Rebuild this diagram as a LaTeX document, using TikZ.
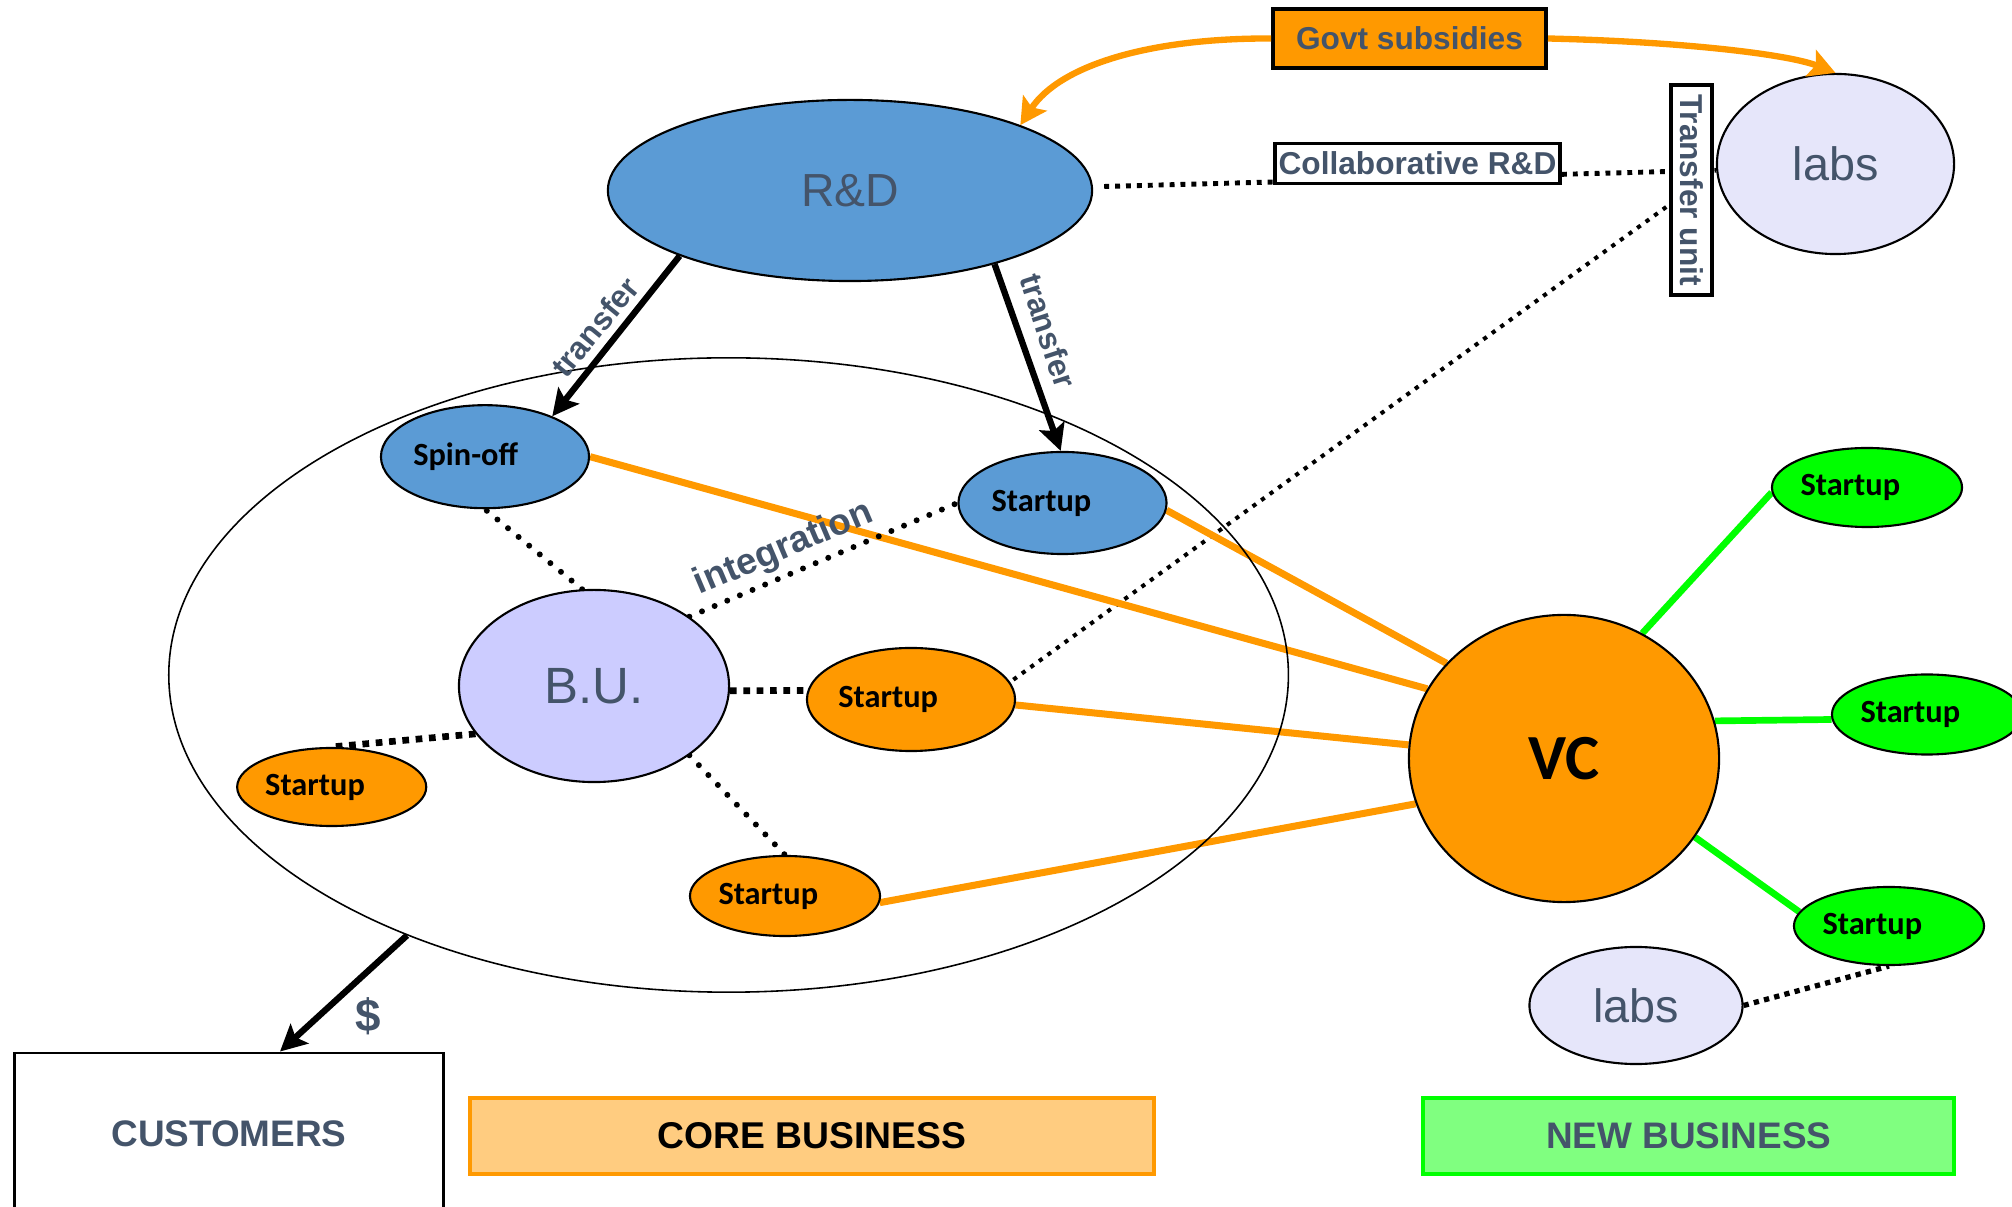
\documentclass[tikz,border=0pt]{standalone}
\usepackage{fontspec}
\setmainfont{Liberation Sans}
\newfontfamily\calfont{Carlito}
\usetikzlibrary{shapes.geometric,arrows.meta,backgrounds,calc}
\definecolor{txt}{HTML}{44546A}
\definecolor{blu}{HTML}{5B9BD5}
\definecolor{org}{HTML}{FF9900}
\definecolor{lorg}{HTML}{FFCC80}
\definecolor{grn}{HTML}{00FF00}
\definecolor{lgrn}{HTML}{80FF80}
\definecolor{bufill}{HTML}{CCCCFF}
\definecolor{labsfill}{HTML}{E6E6FA}
\begin{document}
\begin{tikzpicture}[x=0.01cm,y=-0.01cm,
 ell/.style={ellipse,draw=black,line width=0.6pt,inner sep=0pt},
 bigtxt/.style={text=txt,font=\fontsize{#1}{#1}\selectfont},
 lbl/.style={text=txt,font=\fontsize{#1}{#1}\selectfont\bfseries,inner sep=0pt},
 sut/.style={ell,font=\calfont\fontsize{9.2}{10}\selectfont\bfseries,text=black},
 boxn/.style={draw=black,line width=1pt,fill=white,inner sep=0pt},
 oline/.style={draw=org,line width=2pt},
 gline/.style={draw=grn,line width=1.9pt},
 rdots/.style={draw=black,line width=1.7pt,line cap=round,dash pattern=on 0pt off 3.9pt},
 sqdots/.style={draw=black,line width=#1,dash pattern=on #1 off #1},
 sqdots/.default=1.4pt,
 barrow/.style={draw=black,line width=1.8pt,-{Stealth[length=7.5pt,width=7.5pt,inset=1.5pt]}},
 oarrow/.style={draw=org,line width=1.8pt,-{Stealth[length=7.5pt,width=8pt,inset=1.5pt]}}
]
\useasboundingbox (0,0) rectangle (2012,1207);

% big core ellipse
\node[ellipse,draw=black,line width=0.45pt,minimum width=11.19cm,minimum height=6.34cm,inner sep=0pt] (core) at (728.6,675) {};

% top nodes
\node[ell,fill=blu,minimum width=4.84cm,minimum height=1.81cm,bigtxt=13.2] (rd) at (850,190.5) {R\&D};
\node[ell,fill=labsfill,minimum width=2.37cm,minimum height=1.80cm,bigtxt=13.3] (labs1) at (1835.5,164) {labs};
\node[boxn,fill=org,line width=1.1pt,minimum width=2.73cm,minimum height=0.59cm,lbl=9] (govt) at (1409.5,38.5) {Govt subsidies};
\node[boxn,minimum width=2.85cm,minimum height=0.40cm,lbl=9] (collab) at (1417.5,163.5) {Collaborative R\&D};
\node[boxn,rotate=-90,minimum width=2.10cm,minimum height=0.41cm,lbl=9] (tu) at (1691.5,190) {Transfer unit};

% core business nodes
\node[sut,fill=blu,minimum width=2.08cm,minimum height=1.03cm] (spinoff) at (485,456.7) {Spin-off\kern11pt};
\node[sut,fill=blu,minimum width=2.08cm,minimum height=1.02cm] (su1) at (1062.5,503) {Startup\kern12pt};
\node[ell,fill=bufill,minimum width=2.70cm,minimum height=1.92cm,bigtxt=14.5] (bu) at (594,686) {B.U.};
\node[sut,fill=org,minimum width=2.08cm,minimum height=1.03cm] (su2) at (911,699.5) {Startup\kern13pt};
\node[sut,fill=org,minimum width=1.89cm,minimum height=0.78cm] (su3) at (331.7,787) {Startup\kern9.5pt};
\node[sut,fill=org,minimum width=1.90cm,minimum height=0.80cm] (su4) at (785,896) {Startup\kern9.5pt};

% new business nodes
\node[ell,fill=org,minimum width=3.10cm,minimum height=2.87cm,font=\calfont\fontsize{18.3}{20}\selectfont\bfseries] (vc) at (1564,758.5) {VC};
\node[sut,fill=grn,minimum width=1.90cm,minimum height=0.79cm] (g1) at (1867,487.5) {Startup\kern9.5pt};
\node[sut,fill=grn,minimum width=1.90cm,minimum height=0.80cm] (g2) at (1927,714.5) {Startup\kern9.5pt};
\node[sut,fill=grn,minimum width=1.90cm,minimum height=0.78cm] (g3) at (1889,926) {Startup\kern9.5pt};
\node[ell,fill=labsfill,minimum width=2.13cm,minimum height=1.17cm,bigtxt=13.3] (labs2) at (1636,1005.5) {labs};

% bottom boxes
\node[draw=black,line width=0.8pt,fill=white,minimum width=4.28cm,minimum height=1.62cm,inner sep=0pt,lbl=10.5] (cust) at (229,1134) {CUSTOMERS};
\node[draw=org,line width=1.2pt,fill=lorg,minimum width=6.83cm,minimum height=0.76cm,inner sep=0pt,font=\fontsize{10.6}{12}\selectfont\bfseries,text=black] (corebox) at (812,1136) {CORE BUSINESS};
\node[draw=grn,line width=1.2pt,fill=lgrn,minimum width=5.31cm,minimum height=0.76cm,inner sep=0pt,lbl=10.5] (newbox) at (1688.7,1136) {NEW BUSINESS};

% labels
\node[lbl=9,rotate=50.7] (tl) at (594.8,327) {transfer};
\node[lbl=9,rotate=-72] (tr) at (1048.4,331) {transfer};
\node[lbl=10.5,rotate=23] (integ) at (784,549) {integration};
\node[lbl=13] (dollar) at (368,1016) {\$};

% connectors behind nodes
\begin{scope}[on background layer]
\draw[sqdots=1.4pt,dash pattern=on 1.4pt off 1.7pt] ($(rd.east)+(11,-4)$) -- (labs1.183);
\draw[sqdots=1.15pt,dash pattern=on 1.2pt off 1.8pt] ($(tu.south)+(-3,17)$) -- (su2.10);
\draw[oline] (spinoff.east) -- (vc.153.6);
\draw[oline] (su1.-4) -- (vc.141.8);
\draw[oline] (su2.-3) -- (vc.175.8);
\draw[oline] (su4.-4) -- (vc.197);
\draw[gline] (vc.58.5) -- (g1.183);
\draw[gline] (vc.14) -- (g2.183);
\draw[gline] (vc.-31.6) -- (g3.171.6);
\draw[rdots] (bu.97) -- (spinoff.south);
\draw[rdots] (bu.36) -- (su1.west);
\draw[sqdots=1.9pt] (bu.-2) -- (su2.175);
\draw[sqdots=1.9pt] (bu.202) -- (su3.north);
\draw[rdots] (bu.-36) -- (su4.north);
\draw[sqdots=1.5pt] (labs2.east) -- (g3.south);
\end{scope}

% arrows
\draw[barrow] (rd.201) -- (spinoff.31);
\draw[barrow] (rd.-27.5) -- (su1.92);
\draw[barrow] (core.219) -- ($(cust.north)+(51,0)$);
\draw[oarrow] (govt.west) .. controls (1150,38) and (1060,65) .. (rd.21);
\draw[oarrow] (govt.east) .. controls (1690,42) and (1790,55) .. (labs1.north);
\end{tikzpicture}
\end{document}
